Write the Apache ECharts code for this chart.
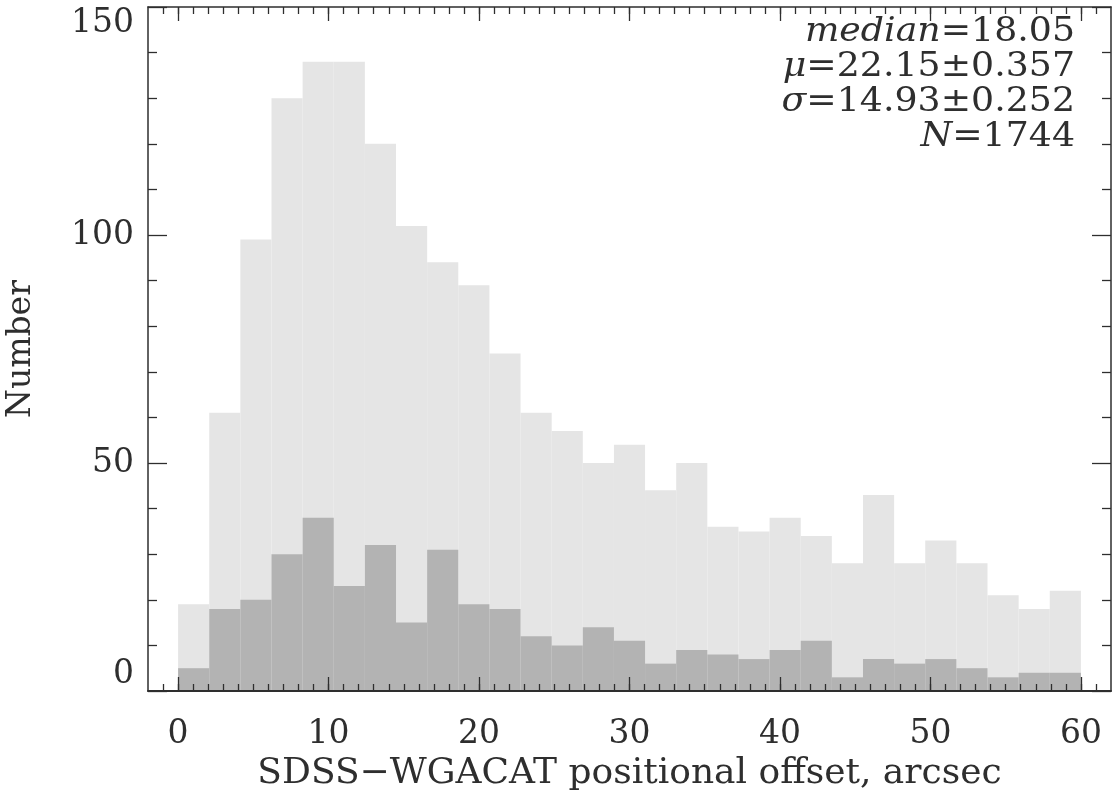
<!DOCTYPE html>
<html>
<head>
<meta charset="utf-8">
<script src="https://cdn.jsdelivr.net/npm/echarts@6/dist/echarts.min.js"></script>
<style>
  html, body { margin: 0; padding: 0; background: #ffffff; }
  #chart { width: 1112px; height: 801px; }
</style>
</head>
<body>
<div id="chart"></div>
<script>
// Histogram of SDSS–WGACAT positional offsets: 29 equal-width bins over 0–60 arcsec
const binRange = [0, 60];
const allCounts = [19, 61, 99, 130, 138, 138, 120, 102, 94, 89, 74, 61, 57, 50, 54,
                   44, 50, 36, 35, 38, 34, 28, 43, 28, 33, 28, 21, 18, 22];
const subCounts = [5, 18, 20, 30, 38, 23, 32, 15, 31, 19, 18, 12, 10, 14, 11,
                   6, 9, 8, 7, 9, 11, 3, 7, 6, 7, 5, 3, 4, 4];
const xTickLabels = [0, 10, 20, 30, 40, 50, 60];
const yTickLabels = [0, 50, 100, 150];
const xAxisRange = [-2, 62];
const xAxisTitle = 'SDSS\u2212WGACAT positional offset, arcsec';
const yAxisTitle = 'Number';
const statLines = [
  '{it|median}=18.05',
  '{it|\u03bc}=22.15\u00b10.357',
  '{it|\u03c3}=14.93\u00b10.252',
  '{it|N}=1744'
];

const FONT = 'DejaVu Serif';
const INK = '#2e2e2e';

const binWidth = (binRange[1] - binRange[0]) / allCounts.length;
function toBins(counts) {
  return counts.map((c, i) => [binRange[0] + i * binWidth, binRange[0] + (i + 1) * binWidth, c]);
}

// minor tick positions every 1 arcsec inside the visible range
const xMinorTicks = [];
for (let v = Math.ceil(xAxisRange[0]) + 1; v < xAxisRange[1]; v++) xMinorTicks.push(v);

function renderBin(params, api) {
  const p0 = api.coord([api.value(0), api.value(2)]);
  const p1 = api.coord([api.value(1), 0]);
  return {
    type: 'rect',
    shape: { x: p0[0], y: p0[1], width: p1[0] - p0[0], height: p1[1] - p0[1] },
    style: { fill: api.visual('color') }
  };
}

function xAxisDef(position, major, extra) {
  return Object.assign({
    type: 'value',
    gridIndex: 0,
    position: position,
    z: 10,
    min: xAxisRange[0],
    max: xAxisRange[1],
    splitLine: { show: false },
    axisLine: { show: major, onZero: false, lineStyle: { color: INK, width: position === 'bottom' ? 2 : 1.5 } },
    axisTick: {
      show: true,
      inside: true,
      customValues: major ? xTickLabels : xMinorTicks,
      length: major ? 14 : 7,
      lineStyle: { color: INK, width: 1.3 }
    },
    axisLabel: { show: false }
  }, extra || {});
}

function yAxisDef(position, extra) {
  return Object.assign({
    type: 'value',
    position: position,
    z: 10,
    min: yTickLabels[0],
    max: yTickLabels[yTickLabels.length - 1],
    interval: yTickLabels[1] - yTickLabels[0],
    splitLine: { show: false },
    axisLine: { show: true, onZero: false, lineStyle: { color: INK, width: 1.5 } },
    axisTick: { show: true, inside: true, length: 19, lineStyle: { color: INK, width: 1.3 } },
    minorTick: { show: true, splitNumber: 5, length: 9, lineStyle: { color: INK, width: 1.3 } },
    minorSplitLine: { show: false },
    axisLabel: { show: false }
  }, extra || {});
}

const chart = echarts.init(document.getElementById('chart'), null, { renderer: 'canvas' });

chart.setOption({
  backgroundColor: '#ffffff',
  animation: false,
  textStyle: { fontFamily: FONT, color: INK },
  grid: { left: 148, right: 1, top: 7, bottom: 110, containLabel: false, outerBoundsMode: 'none' },
  xAxis: [
    xAxisDef('bottom', true, {
      axisLabel: {
        show: true,
        customValues: xTickLabels,
        margin: 27,
        fontFamily: FONT,
        fontSize: 33,
        color: INK
      },
      name: xAxisTitle,
      nameLocation: 'middle',
      nameGap: 65,
      nameTextStyle: { fontFamily: FONT, fontSize: 36, color: INK }
    }),
    xAxisDef('bottom', false),
    xAxisDef('top', true),
    xAxisDef('top', false)
  ],
  yAxis: [
    yAxisDef('left', {
      axisLabel: {
        show: true,
        margin: 14,
        fontFamily: FONT,
        fontSize: 33,
        color: INK,
        verticalAlignMinLabel: 'bottom',
        verticalAlignMaxLabel: 'top'
      },
      name: yAxisTitle,
      nameLocation: 'middle',
      nameRotate: 90,
      nameGap: 110,
      nameTextStyle: { fontFamily: FONT, fontSize: 33, color: INK }
    }),
    yAxisDef('right')
  ],
  graphic: statLines.map((txt, i) => ({
    type: 'text',
    x: 1075,
    y: 32 + i * 35,
    scaleX: 1.1,
    z: 10,
    style: {
      text: txt,
      align: 'right',
      verticalAlign: 'middle',
      fontFamily: FONT,
      fontSize: 33,
      fill: INK,
      rich: {
        it: { fontFamily: FONT, fontSize: 33, fontStyle: 'italic', fill: INK }
      }
    }
  })),
  series: [
    {
      type: 'custom',
      name: 'all',
      xAxisIndex: 0,
      yAxisIndex: 0,
      renderItem: renderBin,
      encode: { x: [0, 1], y: 2 },
      itemStyle: { color: '#e5e5e5' },
      data: toBins(allCounts),
      z: 1
    },
    {
      type: 'custom',
      name: 'subset',
      xAxisIndex: 0,
      yAxisIndex: 0,
      renderItem: renderBin,
      encode: { x: [0, 1], y: 2 },
      itemStyle: { color: '#b3b3b3' },
      data: toBins(subCounts),
      z: 2
    }
  ]
});
</script>
</body>
</html>
